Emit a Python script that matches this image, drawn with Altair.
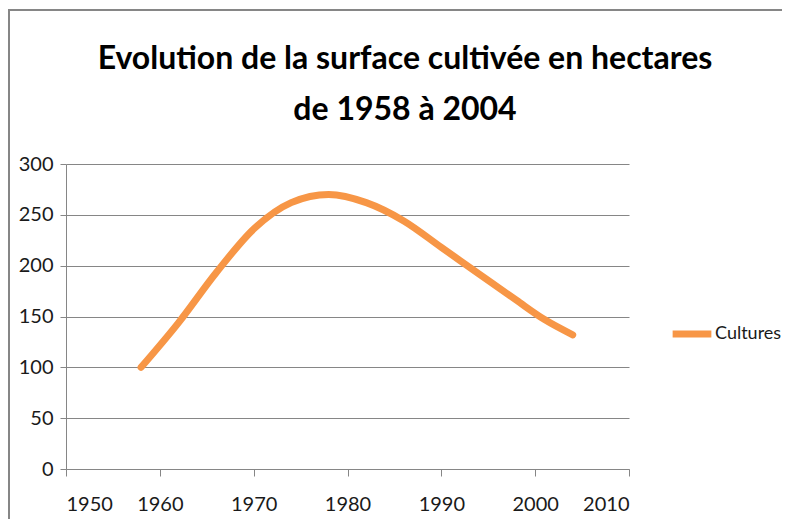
import altair as alt
import pandas as pd

# data
years = [1958, 1962, 1966, 1970, 1974, 1978, 1982, 1986, 1990, 1994, 1998, 2001, 2004]
values = [100, 144, 193, 236, 262, 270, 262, 244, 218, 192, 166, 147, 132]
series_name = "Cultures"
x_ticks = [1950, 1960, 1970, 1980, 1990, 2000, 2010]
y_ticks = [0, 50, 100, 150, 200, 250, 300]
title_lines = ["Evolution de la surface cultivée en hectares", "de 1958 à 2004"]

df = pd.DataFrame({"annee": years, "surface": values, "serie": [series_name] * len(years)})

FONT = "Lato, DejaVu Sans Condensed, sans-serif"
GRAY = "#868686"
ORANGE = "#F79646"
TXT = "#1a1a1a"

line = alt.Chart(df).mark_line(
    interpolate="monotone", strokeWidth=7, strokeCap="round", strokeJoin="round"
).encode(
    x=alt.X("annee:Q", scale=alt.Scale(domain=[1950, 2010], nice=False, zero=False),
            axis=alt.Axis(values=x_ticks, format="d", title=None, grid=False,
                          domainColor=GRAY, tickColor=GRAY, tickSize=7,
                          labelPadding=18, labelFont=FONT, labelFontSize=20,
                          labelColor=TXT)),
    y=alt.Y("surface:Q", scale=alt.Scale(domain=[0, 300], nice=False),
            axis=alt.Axis(values=y_ticks, title=None, grid=True, gridColor=GRAY,
                          domainColor=GRAY, tickColor=GRAY, tickSize=6,
                          labelPadding=7, labelFont=FONT, labelFontSize=20,
                          labelColor=TXT)),
    color=alt.Color("serie:N", scale=alt.Scale(range=[ORANGE]),
                    legend=alt.Legend(title=None, orient="none", legendX=603, legendY=147,
                                      symbolType="stroke", symbolStrokeWidth=7,
                                      symbolSize=1500, labelFont=FONT, labelFontSize=18,
                                      labelColor=TXT, labelOffset=0)),
)

frame_left = alt.Chart(df).mark_rule(color=GRAY, strokeWidth=2).encode(
    x=alt.value(-57), y=alt.value(-155), y2=alt.value(360)
)
frame_top = alt.Chart(df).mark_rule(color=GRAY, strokeWidth=2).encode(
    x=alt.value(-58), x2=alt.value(730), y=alt.value(-154)
)

title1 = alt.Chart(pd.DataFrame({"t": [title_lines[0]]})).mark_text(
    font=FONT, fontSize=32, fontWeight="bold", color="#000000", align="center",
    baseline="alphabetic"
).encode(text="t:N", x=alt.value(339), y=alt.value(-95))

title2 = alt.Chart(pd.DataFrame({"t": [title_lines[1]]})).mark_text(
    font=FONT, fontSize=32, fontWeight="bold", color="#000000", align="center",
    baseline="alphabetic"
).encode(text="t:N", x=alt.value(339), y=alt.value(-44))

chart = alt.layer(frame_left, frame_top, title1, title2, line).properties(
    width=563, height=305,
    padding={"left": 58, "top": 156, "right": 153, "bottom": 50},
    autosize=alt.AutoSizeParams(type="none"),
).configure_view(stroke=None)

chart.save("out.html", embed_options={"renderer": "svg", "actions": False})
